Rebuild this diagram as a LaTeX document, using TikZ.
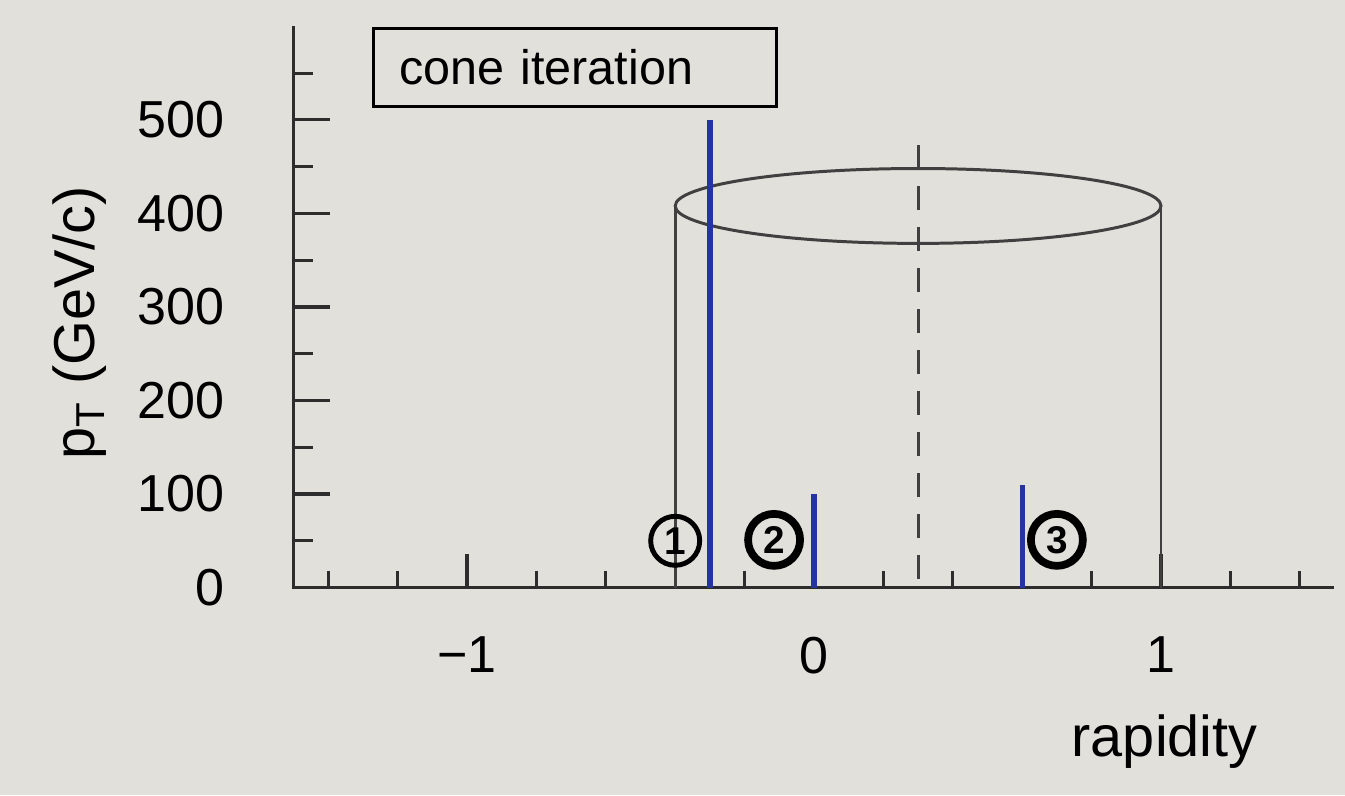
\documentclass[tikz,border=0pt]{standalone}
\usepackage{fontspec}
\setmainfont{Liberation Sans}
\usepackage{xcolor}
\usepackage{tikz}

\definecolor{slidegray}{RGB}{226,224,219}
\definecolor{jetblue}{RGB}{36,52,160}
\definecolor{axisgray}{RGB}{45,45,45}

\begin{document}
\begin{tikzpicture}[x=3.47cm, y=0.00936cm,
  axisline/.style={axisgray, line width=0.9pt},
  conewall/.style={black!75, line width=0.85pt},
  particle/.style={jetblue, line width=1.5pt},
  ticklabel/.style={font=\fontsize{14.8}{17}\selectfont},
  axistitle/.style={font=\fontsize{16.4}{19}\selectfont},
  seedmark/.style={draw, circle, minimum size=0.49cm, inner sep=0pt,
    font=\bfseries\fontsize{11}{12}\selectfont}]
  \useasboundingbox[fill=slidegray] (-2.3458,-222.2) rectangle (1.5303,628.2);
  % ---- axes and ticks ----
  \draw[axisline] (-1.5,600) -- (-1.5,0) -- (1.5,0);
  \foreach \v in {0,100,...,500} {
    \draw[axisline] (-1.5,\v) -- ++(0.37cm,0);
    \node[ticklabel, anchor=east] (ylab\v) at ([xshift=-0.57cm]-1.5,\v) {\v};
  }
  \foreach \v in {50,150,...,550}
    \draw[axisline] (-1.5,\v) -- ++(0.2cm,0);
  \foreach \k in {-7,...,7}
    \draw[axisline] (\k/5,0) -- ++(0,0.17cm);
  \foreach \k/\t/\n in {-1/−1/m1, 0/0/0, 1/1/1} {
    \draw[axisline] (\k,0) -- ++(0,0.34cm);
    \node[ticklabel, anchor=north] (xlab\n) at ([yshift=-0.37cm]\k,0) {\t};
  }
  \node[axistitle, anchor=base east] (xtitle) at (1.314,-180.6) {rapidity};
  \node[axistitle, rotate=90, anchor=base] (ytitle) at (-2.072,283)
    {p\textsubscript{T} (GeV/c)};
  \node[draw, line width=0.8pt, anchor=north west, inner xsep=0.26cm,
    text width=3.51cm, align=left, minimum height=0.78cm,
    font=\fontsize{13.8}{16}\selectfont] (title)
    at (-1.274,599.4) {cone iteration};
  % ---- cone around the seed ----
  \draw[conewall] (-0.4,0) -- (-0.4,408);
  \draw[conewall] (1,0) -- (1,408);
  \draw[conewall] (0.3,408) ellipse [x radius=2.429cm, y radius=0.3744cm];
  \draw[conewall, dash pattern=on 0.24cm off 0.17cm] (0.3,473) -- (0.3,0);
  % ---- particles ----
  \draw[particle] (-0.3,0) -- (-0.3,500);
  \draw[particle] (0,0) -- (0,100);
  \draw[particle] (0.6,0) -- (0.6,110);
  \node[seedmark, line width=1.4pt] (seed1) at (-0.4,50) {1};
  \node[seedmark, line width=2.2pt, minimum size=0.52cm] (seed2) at (-0.115,51) {2};
  \node[seedmark, line width=2.2pt, minimum size=0.52cm] (seed3) at (0.7,51) {3};
\end{tikzpicture}
\end{document}
